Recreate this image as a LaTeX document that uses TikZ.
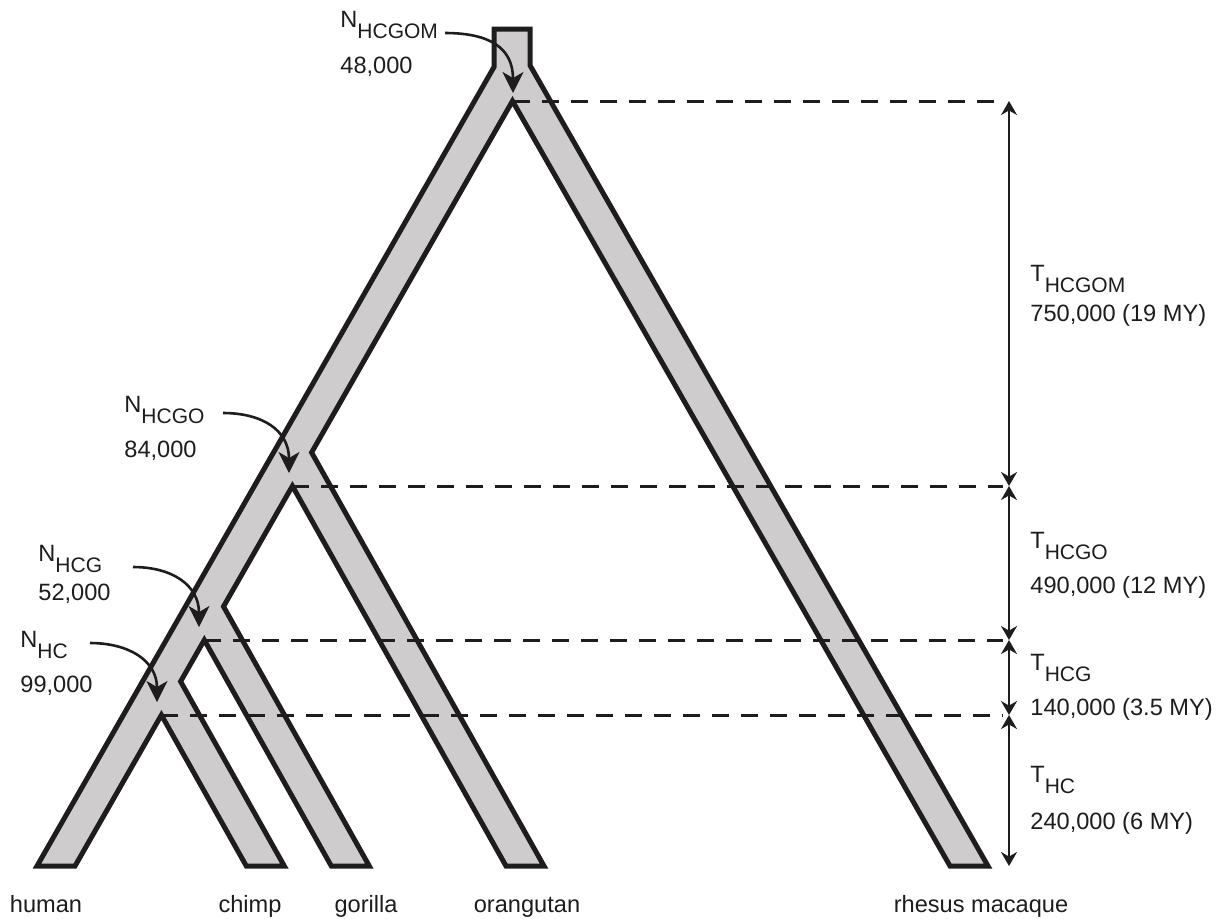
\documentclass[tikz,border=0pt]{standalone}
\usepackage{fontspec}
\setmainfont{Liberation Sans}
\usetikzlibrary{arrows.meta}
\definecolor{branchfill}{RGB}{206,204,205}
\definecolor{ink}{RGB}{30,28,29}
\newcommand\subl[2]{#1\raisebox{-5.5pt}{\fontsize{10.5}{12}\selectfont #2}}
\begin{document}
\begin{tikzpicture}[x=0.5pt,y=-0.5pt,
  font=\fontsize{11.8}{14}\selectfont,
  every node/.style={text=ink, inner sep=0pt},
  tree/.style={fill=branchfill, draw=ink, line width=2.5pt, line join=miter},
  guide/.style={draw=ink, line width=1.5pt, dash pattern=on 8.5pt off 6pt},
  ptr/.style={draw=ink, line width=1.3pt, -{Stealth[length=10.5pt,width=10.5pt,inset=3pt]}},
  span/.style={draw=ink, line width=1.1pt, {Stealth[length=7pt,width=8pt]}-{Stealth[length=7pt,width=8pt]}},
  lbl/.style={anchor=base west},
  leaf/.style={anchor=base}]
\useasboundingbox (0,0) rectangle (1219,918);

% split vertices
\coordinate (V0) at (512.5,101);
\coordinate (V1) at (292.4,486);
\coordinate (V2) at (204.3,640);
\coordinate (V3) at (161.4,715);

% tree outline
\path[tree] (494,29) -- (530,29) -- (530,65.3) -- (988,866) -- (950,866)
  -- (V0) -- (311.6,452.5) -- (544,866) -- (506,866)
  -- (V1) -- (223.5,606.5) -- (369.3,866) -- (331.3,866)
  -- (V2) -- (180.6,681.5) -- (284.3,866) -- (246.3,866)
  -- (V3) -- (75,866) -- (37,866) -- (494,67) -- cycle;

% scale coordinates
\coordinate (A0) at (1009,101);
\coordinate (A1) at (1009,486);
\coordinate (A2) at (1009,640);
\coordinate (A3) at (1009,715);
\coordinate (A4) at (1009,866);

% dashed guides
\draw[guide] (V0) -- (1003,101);
\draw[guide] (V1) -- (1003,486);
\draw[guide] (V2) -- (1003,640);
\draw[guide] (V3) -- (1003,715);

% spans
\draw[span] (A0) -- (A1);
\draw[span] (A1) -- (A2);
\draw[span] (A2) -- (A3);
\draw[span] (A3) -- (A4);

% N labels
\node[lbl] (nHCGOM) at (340,27) {\subl{N}{HCGOM}};
\node[lbl] (vHCGOM) at (340,73) {48,000};
\node[lbl] (nHCGO) at (124,412) {\subl{N}{HCGO}};
\node[lbl] (vHCGO) at (124,457) {84,000};
\node[lbl] (nHCG) at (38,561) {\subl{N}{HCG}};
\node[lbl] (vHCG) at (38,600) {52,000};
\node[lbl] (nHC) at (20,647) {\subl{N}{HC}};
\node[lbl] (vHC) at (20,692) {99,000};

% pointers
\coordinate (s0) at (445,33);  \coordinate (t0) at (513,93);
\coordinate (s1) at (223,413); \coordinate (t1) at (289,473);
\coordinate (s2) at (133,567); \coordinate (t2) at (199,627);
\coordinate (s3) at (90,643);  \coordinate (t3) at (157,702);
\draw[ptr] (s0) .. controls (490,33) and (513,48) .. (t0);
\draw[ptr] (s1) .. controls (262,413) and (289,430) .. (t1);
\draw[ptr] (s2) .. controls (172,567) and (199,585) .. (t2);
\draw[ptr] (s3) .. controls (128,643) and (157,660) .. (t3);

% T labels
\node[lbl] (tHCGOM) at (1030,281) {\subl{T}{HCGOM}};
\node[lbl] (uHCGOM) at (1030,321) {750,000 (19 MY)};
\node[lbl] (tHCGO) at (1030,548) {\subl{T}{HCGO}};
\node[lbl] (uHCGO) at (1030,593) {490,000 (12 MY)};
\node[lbl] (tHCG) at (1030,670) {\subl{T}{HCG}};
\node[lbl] (uHCG) at (1030,715) {140,000 (3.5 MY)};
\node[lbl] (tHC) at (1030,782) {\subl{T}{HC}};
\node[lbl] (uHC) at (1030,829) {240,000 (6 MY)};

% leaf labels
\node[leaf] (human) at (46,912) {human};
\node[leaf] (chimp) at (250,912) {chimp};
\node[leaf] (gorilla) at (366,912) {gorilla};
\node[leaf] (orangutan) at (527,912) {orangutan};
\node[leaf] (rhesus) at (981,912) {rhesus macaque};
\end{tikzpicture}
\end{document}
